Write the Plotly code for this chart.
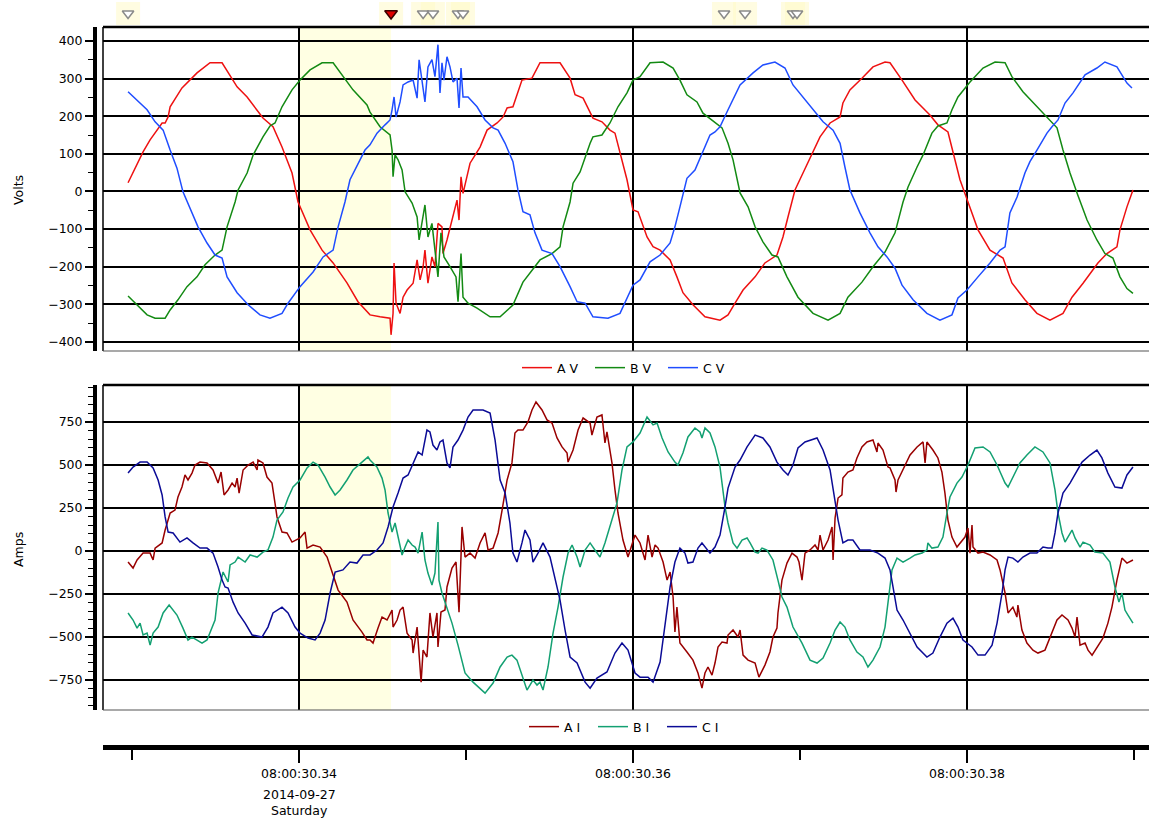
import pandas as pd
import plotly.graph_objects as go

BASE_TIME = "2014-09-27 08:00:30.340"

# ---- voltage samples (time in ms after 08:00:30.340, volts) ----
AV_T = [-10.24,-9.94,-9.34,-8.92,-8.50,-8.20,-8.02,-7.84,-7.72,-7.01,
        -6.11,-5.33,-4.61,-4.25,-3.71,-3.11,-2.63,-2.16,-1.56,-1.02,
        -0.42,-0.06,0.66,1.38,2.04,2.87,3.53,4.25,4.85,5.45,
        5.51,5.63,5.69,5.81,6.05,6.23,6.47,6.83,7.07,7.25,
        7.43,7.54,7.72,7.96,8.14,8.32,8.56,8.62,8.86,9.16,
        9.46,9.58,9.70,9.82,10.06,10.24,10.84,11.26,11.86,12.22,
        12.46,12.81,13.35,13.95,14.43,15.63,16.23,16.53,17.01,17.60,
        18.14,18.62,18.92,19.34,19.64,20.00,20.30,20.84,21.20,21.62,
        22.22,22.63,22.99,23.59,24.31,25.21,25.69,26.11,26.59,27.31,
        27.90,28.62,28.98,29.28,29.70,30.18,30.72,31.20,31.80,32.40,
        32.57,32.99,33.71,34.37,35.09,35.39,36.11,36.89,37.78,38.26,
        38.86,39.16,39.58,40.06,40.66,41.38,42.16,42.69,43.47,44.19,
        44.97,45.75,46.29,46.95,47.84,48.38,48.98,49.16,49.58,49.94]
AV_V = [23,49,105,137,163,182,182,198,225,275,
        315,342,342,315,278,251,222,195,172,118,
        49,-28,-102,-156,-190,-243,-293,-328,-333,-337,
        -381,-324,-190,-297,-324,-281,-262,-244,-182,-235,
        -200,-156,-244,-174,-200,-85,-94,-165,-129,-76,
        -23,-76,39,-5,39,75,118,163,182,198,
        222,225,296,301,342,342,301,257,248,195,
        185,163,155,84,31,-49,-54,-121,-147,-156,
        -182,-227,-269,-301,-333,-342,-328,-297,-262,-227,
        -190,-169,-121,-68,4,49,102,145,182,198,
        235,270,301,331,344,342,296,243,203,177,
        158,102,31,-28,-102,-156,-177,-243,-288,-324,
        -342,-324,-281,-244,-190,-165,-147,-102,-41,4]

BV_T = [-10.24,-9.70,-9.10,-8.62,-8.02,-7.72,-7.25,-6.71,-6.11,-5.63,
        -5.03,-4.61,-4.31,-3.83,-3.65,-3.11,-2.75,-2.16,-1.74,-1.44,
        -1.02,-0.42,0.06,0.66,1.38,2.04,2.63,3.23,4.07,4.25,
        4.85,5.45,5.57,5.63,5.75,5.93,6.17,6.35,6.77,7.07,
        7.19,7.37,7.54,7.72,7.96,8.14,8.32,8.50,8.68,9.04,
        9.40,9.52,9.70,9.82,10.12,10.66,11.44,12.04,12.81,13.41,
        13.83,14.43,15.15,15.63,15.81,16.23,16.41,16.83,17.43,17.60,
        18.14,18.62,19.10,19.64,20.00,20.42,21.02,21.80,22.40,22.81,
        23.23,23.83,24.19,24.73,25.33,25.69,25.99,26.41,26.89,27.31,
        27.78,28.32,28.68,29.22,29.88,30.78,31.68,32.40,32.87,33.71,
        34.37,35.09,35.69,36.17,36.47,37.01,37.37,37.90,38.26,38.80,
        39.10,39.46,40.18,40.96,41.68,42.28,42.69,43.35,44.19,44.79,
        45.39,45.75,46.17,46.59,47.19,47.78,48.26,48.74,49.16,49.58,
        49.94]
BV_V = [-278,-302,-328,-337,-337,-315,-288,-253,-227,-195,
        -169,-156,-94,-28,4,49,97,145,174,182,
        225,270,296,323,342,342,305,270,230,211,
        172,150,110,39,97,84,57,-1,-31,-68,
        -129,-76,-36,-121,-85,-156,-227,-110,-174,-200,
        -227,-293,-165,-281,-297,-310,-333,-333,-302,-241,
        -218,-182,-165,-147,-94,-28,22,52,128,145,
        150,182,225,262,296,305,342,344,328,296,
        257,238,208,190,169,128,84,-4,-41,-94,
        -134,-169,-174,-227,-281,-324,-342,-324,-281,-241,
        -200,-161,-110,-28,12,65,97,155,174,182,
        217,251,291,328,344,342,305,265,225,195,
        169,110,49,-4,-76,-129,-165,-177,-227,-258,
        -271]

CV_T = [-10.24,-9.70,-9.10,-8.62,-8.14,-7.72,-7.31,-6.95,-6.53,-6.05,
        -5.51,-5.03,-4.61,-4.31,-3.71,-3.05,-2.34,-1.74,-1.02,-0.66,
        0.06,0.84,1.44,2.04,2.34,2.75,3.05,3.53,3.95,4.25,
        4.67,5.15,5.45,5.57,5.69,5.81,6.05,6.23,6.53,6.83,
        7.07,7.19,7.37,7.54,7.72,7.96,8.14,8.32,8.44,8.56,
        8.68,8.86,9.04,9.22,9.46,9.58,9.70,9.82,10.12,10.66,
        11.14,11.62,11.92,12.34,12.81,13.11,13.41,13.83,14.13,14.55,
        15.15,15.63,16.23,16.65,17.13,17.60,18.50,19.22,20.00,20.42,
        21.02,21.62,22.22,22.51,22.81,23.23,23.71,24.13,24.61,24.91,
        25.21,25.69,26.41,27.19,27.78,28.50,29.10,29.58,30.18,30.78,
        31.38,31.98,32.40,32.69,32.99,33.59,34.19,34.67,35.21,35.69,
        36.11,36.77,37.60,38.38,39.10,39.46,40.00,40.66,41.38,41.98,
        42.28,42.57,43.00,43.47,43.77,44.19,44.79,45.09,45.45,45.87,
        46.35,47.07,47.78,48.26,48.98,49.34,49.58,49.88]
CV_V = [265,243,217,185,163,110,62,-1,-44,-94,
        -137,-169,-177,-227,-269,-301,-328,-337,-324,-297,
        -253,-214,-174,-156,-94,-28,31,75,110,124,
        155,177,190,217,251,198,238,283,291,296,
        248,350,288,238,331,350,305,390,262,342,
        296,358,331,291,301,222,328,251,251,225,
        190,169,163,128,79,4,-54,-62,-110,-156,
        -165,-200,-253,-293,-297,-333,-337,-324,-249,-235,
        -187,-169,-137,-94,-41,35,57,102,150,158,
        172,217,283,315,336,344,328,283,251,217,
        185,163,128,65,4,-57,-110,-147,-174,-204,
        -249,-288,-324,-342,-328,-283,-262,-227,-190,-156,
        -147,-57,-15,49,79,110,155,172,190,235,
        262,310,328,344,331,305,288,275]

# ---- current samples (time in ms after 08:00:30.340, amps) ----
AI_T = [-10.24,-9.94,-9.70,-9.34,-8.92,-8.74,-8.62,-8.20,-8.02,-7.72,
        -7.43,-7.25,-7.01,-6.83,-6.65,-6.41,-6.23,-5.93,-5.51,-5.15,
        -4.85,-4.67,-4.49,-4.25,-4.01,-3.83,-3.71,-3.59,-3.35,-3.05,
        -2.75,-2.51,-2.46,-2.16,-1.92,-1.62,-1.44,-1.32,-1.02,-0.72,
        -0.42,0.06,0.36,0.48,0.84,1.26,1.68,1.98,2.34,2.87,
        3.23,3.77,4.07,4.25,4.43,4.73,4.97,5.27,5.57,5.63,
        5.87,6.05,6.23,6.47,6.77,6.83,7.07,7.31,7.43,7.66,
        7.84,8.02,8.26,8.32,8.50,8.74,8.86,9.16,9.40,9.58,
        9.76,9.94,10.24,10.54,10.84,11.14,11.32,11.62,11.92,12.16,
        12.46,12.75,12.93,13.11,13.41,13.71,13.95,14.19,14.55,14.85,
        15.15,15.45,15.75,16.05,16.11,16.41,16.71,17.01,17.43,17.54,
        17.84,18.14,18.32,18.44,18.74,18.92,19.10,19.40,19.70,20.12,
        20.42,20.72,20.90,21.14,21.32,21.50,21.80,22.04,22.22,22.40,
        22.51,22.63,22.81,23.23,23.59,23.89,24.13,24.31,24.49,24.73,
        24.91,25.09,25.33,25.63,25.69,25.99,26.29,26.41,26.59,26.89,
        27.31,27.54,27.90,28.20,28.38,28.62,28.68,28.92,29.22,29.52,
        29.82,29.94,30.12,30.30,30.60,30.90,31.08,31.20,31.38,31.68,
        31.92,31.98,32.10,32.28,32.51,32.57,32.87,33.17,33.41,33.71,
        34.01,34.37,34.61,34.67,34.97,35.27,35.39,35.69,35.75,35.87,
        36.17,36.59,37.01,37.37,37.49,37.60,37.96,38.26,38.50,38.68,
        38.86,39.10,39.40,39.58,39.88,40.06,40.18,40.30,40.36,40.66,
        40.96,41.38,41.80,41.98,42.28,42.46,42.75,42.99,43.05,43.29,
        43.59,43.95,44.25,44.67,45.09,45.39,45.69,46.05,46.29,46.47,
        46.59,46.77,47.07,47.25,47.49,47.78,48.14,48.44,48.68,48.98,
        49.28,49.58,49.94]
AI_V = [-64,-99,-52,-12,-12,-52,17,47,122,221,
        238,314,372,442,413,453,500,517,512,471,
        395,459,326,355,395,372,424,337,471,500,
        517,471,529,512,430,395,279,198,110,105,
        52,76,110,17,35,23,-35,-122,-227,-297,
        -401,-471,-517,-517,-535,-448,-384,-401,-343,-442,
        -401,-343,-326,-477,-517,-593,-442,-762,-576,-616,
        -360,-500,-360,-558,-355,-343,-209,-99,-64,-355,
        140,-35,-12,-41,47,105,6,17,105,238,
        413,512,686,703,703,750,820,866,820,762,
        744,657,605,570,517,587,703,773,744,674,
        779,791,628,692,512,355,221,64,-35,93,
        47,-52,93,-35,35,17,-64,-169,-122,-267,
        -471,-326,-535,-587,-634,-709,-797,-709,-674,-721,
        -651,-558,-529,-535,-488,-459,-500,-459,-605,-634,
        -651,-733,-663,-587,-500,-448,-360,-169,-70,-12,
        -35,-64,-169,-12,6,35,6,93,6,64,
        140,-52,192,308,326,424,459,471,541,605,
        634,645,576,628,587,488,483,413,343,413,
        471,558,605,634,512,634,587,541,459,337,
        180,81,23,47,81,134,-12,151,23,-12,
        -6,-23,-52,-110,-244,-360,-326,-384,-314,-459,
        -535,-576,-593,-576,-477,-401,-372,-401,-448,-500,
        -384,-547,-535,-576,-605,-558,-506,-419,-326,-169,
        -41,-70,-52]

BI_T = [-10.24,-9.94,-9.70,-9.52,-9.34,-9.10,-8.92,-8.74,-8.44,-8.14,
        -7.78,-7.31,-6.95,-6.65,-6.41,-5.81,-5.51,-5.21,-5.03,-4.85,
        -4.55,-4.25,-4.13,-3.83,-3.65,-3.23,-2.93,-2.51,-2.16,-1.86,
        -1.56,-1.32,-0.96,-0.66,-0.36,0.06,0.48,0.84,1.14,1.56,
        1.86,2.16,2.46,2.87,3.23,3.77,4.13,4.25,4.67,4.97,
        5.15,5.33,5.57,5.75,5.93,6.17,6.35,6.53,6.77,6.95,
        7.13,7.37,7.54,7.72,7.96,8.14,8.32,8.38,8.56,8.86,
        9.16,9.52,9.94,10.42,11.14,11.62,12.04,12.46,12.75,13.05,
        13.41,13.65,14.01,14.25,14.43,14.61,14.91,15.21,15.51,15.81,
        16.11,16.35,16.65,16.83,17.13,17.43,17.72,18.02,18.32,18.74,
        19.04,19.34,19.64,20.00,20.42,20.84,21.20,21.44,21.74,22.10,
        22.51,22.69,22.99,23.29,23.71,24.01,24.13,24.31,24.61,24.91,
        25.21,25.51,25.69,25.99,26.23,26.53,26.83,27.01,27.31,27.49,
        27.72,28.02,28.38,28.68,28.92,29.22,29.58,30.12,30.60,31.02,
        31.38,31.80,32.10,32.40,32.69,32.99,33.41,33.77,34.07,34.37,
        34.79,35.09,35.27,35.51,35.81,36.17,36.59,36.89,37.31,37.60,
        37.66,37.90,38.26,38.56,38.80,38.98,39.40,39.70,40.06,40.48,
        40.96,41.38,41.80,42.28,42.46,42.87,43.17,43.59,44.07,44.55,
        44.97,45.27,45.45,45.69,45.87,46.29,46.47,46.77,46.95,47.37,
        47.66,48.14,48.56,48.86,49.10,49.28,49.46,49.64,49.94]
BI_V = [-360,-401,-448,-419,-488,-477,-547,-477,-442,-360,
        -314,-372,-448,-517,-500,-535,-517,-442,-401,-244,
        -122,-180,-81,-64,-35,-64,-23,-35,-6,6,
        81,180,227,308,372,413,483,517,500,430,
        372,326,355,413,471,517,547,529,488,424,
        355,221,110,163,81,-23,23,64,35,23,
        -12,110,-52,-128,-198,-128,169,-169,-244,-326,
        -419,-547,-709,-762,-826,-767,-674,-616,-605,-634,
        -733,-808,-750,-779,-762,-808,-674,-477,-326,-151,
        -12,35,-35,-93,6,47,6,-35,47,180,
        279,471,605,634,686,779,733,744,657,576,
        517,500,570,663,715,692,657,715,686,605,
        488,256,163,47,17,64,76,47,-6,-12,
        17,6,-52,-169,-267,-326,-442,-535,-634,-651,
        -622,-535,-459,-413,-442,-517,-587,-616,-674,-634,
        -558,-442,-285,-110,-41,-64,-41,-23,-12,6,
        47,17,23,81,221,314,395,430,500,599,
        605,576,500,395,372,453,512,558,605,576,
        512,355,221,105,52,122,76,23,52,35,
        -6,-12,-64,-209,-297,-244,-343,-372,-419]

CI_T = [-10.24,-9.94,-9.52,-9.10,-8.74,-8.44,-8.20,-8.02,-7.84,-7.54,
        -7.13,-6.71,-6.35,-5.93,-5.51,-5.15,-4.85,-4.61,-4.43,-4.25,
        -3.95,-3.65,-3.23,-2.81,-2.22,-1.86,-1.56,-1.02,-0.66,-0.24,
        0.06,0.54,0.96,1.26,1.56,1.86,2.16,2.63,3.05,3.47,
        3.83,4.25,4.67,5.03,5.33,5.63,5.93,6.23,6.53,6.83,
        7.13,7.37,7.66,7.84,8.02,8.26,8.44,8.62,8.86,9.04,
        9.22,9.52,9.82,10.12,10.42,11.02,11.44,11.74,12.04,12.34,
        12.63,12.81,13.05,13.35,13.53,13.83,14.01,14.31,14.61,15.03,
        15.33,15.63,15.93,16.23,16.65,17.13,17.43,17.84,18.44,18.92,
        19.34,19.70,20.12,20.42,20.90,21.20,21.62,21.92,22.22,22.51,
        22.81,23.11,23.29,23.59,23.89,24.13,24.31,24.61,24.91,25.21,
        25.51,25.69,26.11,26.41,26.83,27.31,27.78,28.20,28.62,28.98,
        29.28,29.58,29.88,30.30,31.02,31.38,31.80,32.10,32.28,32.57,
        32.87,33.17,33.59,34.19,34.67,35.09,35.39,35.57,35.81,36.17,
        36.59,37.01,37.60,37.96,38.38,38.80,39.16,39.46,39.76,40.30,
        40.66,41.08,41.50,41.80,42.10,42.28,42.46,42.75,43.05,43.35,
        43.77,44.19,44.55,44.85,45.09,45.27,45.45,45.75,46.17,46.59,
        46.89,47.37,47.78,48.08,48.44,48.86,49.28,49.58,49.94]
CI_V = [453,488,517,517,483,413,326,198,110,105,
        52,76,47,17,17,-12,-93,-169,-209,-215,
        -297,-360,-419,-488,-500,-442,-360,-326,-360,-442,
        -477,-506,-517,-477,-401,-244,-122,-110,-64,-70,
        -23,-23,6,47,140,256,337,424,442,512,
        576,558,703,692,616,587,634,645,512,483,
        605,645,703,779,820,820,802,645,413,337,
        163,-12,-64,47,122,64,-64,-12,47,-35,
        -169,-285,-459,-616,-651,-762,-797,-738,-703,-593,
        -535,-576,-709,-733,-733,-762,-645,-442,-209,-64,
        17,-12,-70,-64,17,47,23,-12,23,93,
        256,366,488,529,605,674,657,605,517,471,
        442,500,599,634,657,587,471,279,180,47,
        64,64,6,6,-12,-41,-110,-209,-343,-401,
        -477,-558,-616,-593,-500,-419,-390,-442,-517,-558,
        -605,-605,-547,-419,-244,-110,-35,-41,-64,-35,
        -12,-12,23,17,17,105,221,337,395,471,
        517,558,587,541,453,372,366,442,488]

# ---- events, shading, axis ticks ----
EVENT_MS = [-10.24, 7.43, 8.02, 9.52, 9.82, 25.45, 26.71, 29.58, 29.82]
TRIGGER_MS = [5.51]
SHADE_MS = [0.0, 5.51]
LABEL_MS = [0, 20, 40]
MINOR_MS = [-10, 10, 30, 50]
TICK_LABELS = ["08:00:30.34", "08:00:30.36", "08:00:30.38"]
DATE_LINES = ["2014-09-27", "Saturday"]
VIEW_MS = [-11.74, 50.90]
V_TICKS = [-400, -300, -200, -100, 0, 100, 200, 300, 400]
I_TICKS = [-750, -500, -250, 0, 250, 500, 750]

VOLT_SERIES = [("A V", AV_T, AV_V, "#ee1111"),
               ("B V", BV_T, BV_V, "#138a13"),
               ("C V", CV_T, CV_V, "#1f4dff")]
AMP_SERIES = [("A I", AI_T, AI_V, "#990000"),
              ("B I", BI_T, BI_V, "#13a072"),
              ("C I", CI_T, CI_V, "#0b0b96")]

base = pd.Timestamp(BASE_TIME)


def ts(ms_list):
    return [(base + pd.Timedelta(microseconds=int(round(m * 1000)))).strftime("%Y-%m-%d %H:%M:%S.%f")
            for m in ms_list]


W, H = 1149, 820
def px(x):
    return x / W
def py(y):
    return 1 - y / H

FONT = "DejaVu Sans"
fig = go.Figure()

for name, t, v, col in VOLT_SERIES:
    n = min(len(t), len(v))
    fig.add_trace(go.Scatter(x=ts(t[:n]), y=v[:n], mode="lines", name=name,
                             line=dict(color=col, width=1.5), xaxis="x", yaxis="y",
                             legend="legend"))
for name, t, v, col in AMP_SERIES:
    n = min(len(t), len(v))
    fig.add_trace(go.Scatter(x=ts(t[:n]), y=v[:n], mode="lines", name=name,
                             line=dict(color=col, width=1.5), xaxis="x2", yaxis="y2",
                             legend="legend2"))

all_events = EVENT_MS + TRIGGER_MS
fig.add_trace(go.Scatter(x=ts(all_events), y=[0] * len(all_events), mode="markers",
                         marker=dict(symbol="square", size=24, color="rgba(255,249,200,0.55)"),
                         xaxis="x3", yaxis="y3", showlegend=False, hoverinfo="skip"))
fig.add_trace(go.Scatter(x=ts(EVENT_MS), y=[0] * len(EVENT_MS), mode="markers",
                         marker=dict(symbol="triangle-down", size=10, color="white",
                                     line=dict(color="#8a8a8a", width=1.5)),
                         xaxis="x3", yaxis="y3", showlegend=False))
fig.add_trace(go.Scatter(x=ts(TRIGGER_MS), y=[0] * len(TRIGGER_MS), mode="markers",
                         marker=dict(symbol="triangle-down", size=11, color="#e00000",
                                     line=dict(color="#3a0000", width=1.5)),
                         xaxis="x3", yaxis="y3", showlegend=False))

XDOM = [px(103), 1.0]
xr = ts(VIEW_MS)
tickfont = dict(family=FONT, size=12.5, color="black")

yaxis_common = dict(anchor="free", position=px(95), showgrid=True, gridcolor="black", gridwidth=1.5,
                    zeroline=False, showline=True, linecolor="black", linewidth=4,
                    ticks="outside", ticklen=8, tickwidth=1.5, tickcolor="black",
                    tickfont=tickfont, tickmode="array")

legend_common = dict(orientation="h", xanchor="left", yanchor="middle", bgcolor="rgba(0,0,0,0)",
                     font=dict(family=FONT, size=12.5), itemwidth=30, entrywidthmode="pixels")

fig.update_layout(
    width=W, height=H, margin=dict(l=0, r=0, t=0, b=0),
    paper_bgcolor="white", plot_bgcolor="white",
    font=dict(family=FONT, size=12.5, color="black"),
    xaxis=dict(domain=XDOM, anchor="y", type="date", range=xr, tickmode="array",
               tickvals=ts(LABEL_MS), showticklabels=False, ticks="", showgrid=True,
               gridcolor="black", gridwidth=1.5, zeroline=False, showline=False),
    yaxis=dict(domain=[py(351), py(27)], range=[-424, 437], tickvals=V_TICKS,
               minor=dict(dtick=50, tick0=0, ticks="outside", ticklen=5, tickwidth=1.2,
                          tickcolor="black", showgrid=False),
               **yaxis_common),
    xaxis2=dict(domain=XDOM, anchor="free", position=py(747), type="date", range=xr,
                tickmode="array", tickvals=ts(LABEL_MS), ticktext=TICK_LABELS,
                ticks="outside", ticklen=13, tickwidth=1.5, tickcolor="black",
                tickfont=tickfont, showline=True, linewidth=5, linecolor="black",
                showgrid=True, gridcolor="black", gridwidth=1.5, zeroline=False,
                minor=dict(tickmode="array", tickvals=ts(MINOR_MS), ticks="outside", ticklen=10,
                           tickwidth=1.5, tickcolor="black", showgrid=False)),
    yaxis2=dict(domain=[py(710), py(385)], range=[-924, 965], tickvals=I_TICKS,
                minor=dict(dtick=50, tick0=0, ticks="outside", ticklen=5, tickwidth=1.2,
                           tickcolor="black", showgrid=False),
                **yaxis_common),
    xaxis3=dict(domain=XDOM, anchor="y3", type="date", range=xr, visible=False),
    yaxis3=dict(domain=[py(25), py(2)], anchor="x3", range=[-1, 1], visible=False),
    legend=dict(x=px(517), y=py(368), entrywidth=28, **legend_common),
    legend2=dict(x=px(524), y=py(727), entrywidth=24, **legend_common),
    showlegend=True,
)

shapes = []
for xa, ya in (("x", "y"), ("x2", "y2")):
    shapes.append(dict(type="rect", xref=xa, yref=f"{ya} domain", x0=ts(SHADE_MS)[0],
                       x1=ts(SHADE_MS)[1], y0=0, y1=1, fillcolor="#ffffe3",
                       line=dict(width=0), layer="below"))
    shapes.append(dict(type="line", xref=f"{xa} domain", yref=f"{ya} domain", x0=0, x1=0,
                       y0=0, y1=1, line=dict(color="black", width=1.5)))
    shapes.append(dict(type="line", xref=f"{xa} domain", yref=f"{ya} domain", x0=0, x1=1,
                       y0=0, y1=0, line=dict(color="#555555", width=1.2)))
    shapes.append(dict(type="line", xref=f"{xa} domain", yref=f"{ya} domain", x0=0, x1=1,
                       y0=1, y1=1, line=dict(color="black", width=2.5)))
fig.update_layout(shapes=shapes)

fig.add_annotation(text="Volts", x=px(18), y=py(190), xref="paper", yref="paper",
                   xanchor="center", yanchor="middle",
                   textangle=-90, showarrow=False, font=dict(family=FONT, size=12.5))
fig.add_annotation(text="Amps", x=px(18), y=py(550), xref="paper", yref="paper",
                   xanchor="center", yanchor="middle",
                   textangle=-90, showarrow=False, font=dict(family=FONT, size=12.5))
for txt, ypix in zip(DATE_LINES, (794, 810)):
    fig.add_annotation(text=txt, x=ts(LABEL_MS)[0], xref="x2", y=py(ypix), yref="paper",
                       xanchor="center", yanchor="middle", showarrow=False,
                       font=dict(family=FONT, size=12.5))

fig.write_html("out.html", config={"displayModeBar": False},
               post_script="document.body.style.margin='0';document.body.style.overflow='hidden';")
